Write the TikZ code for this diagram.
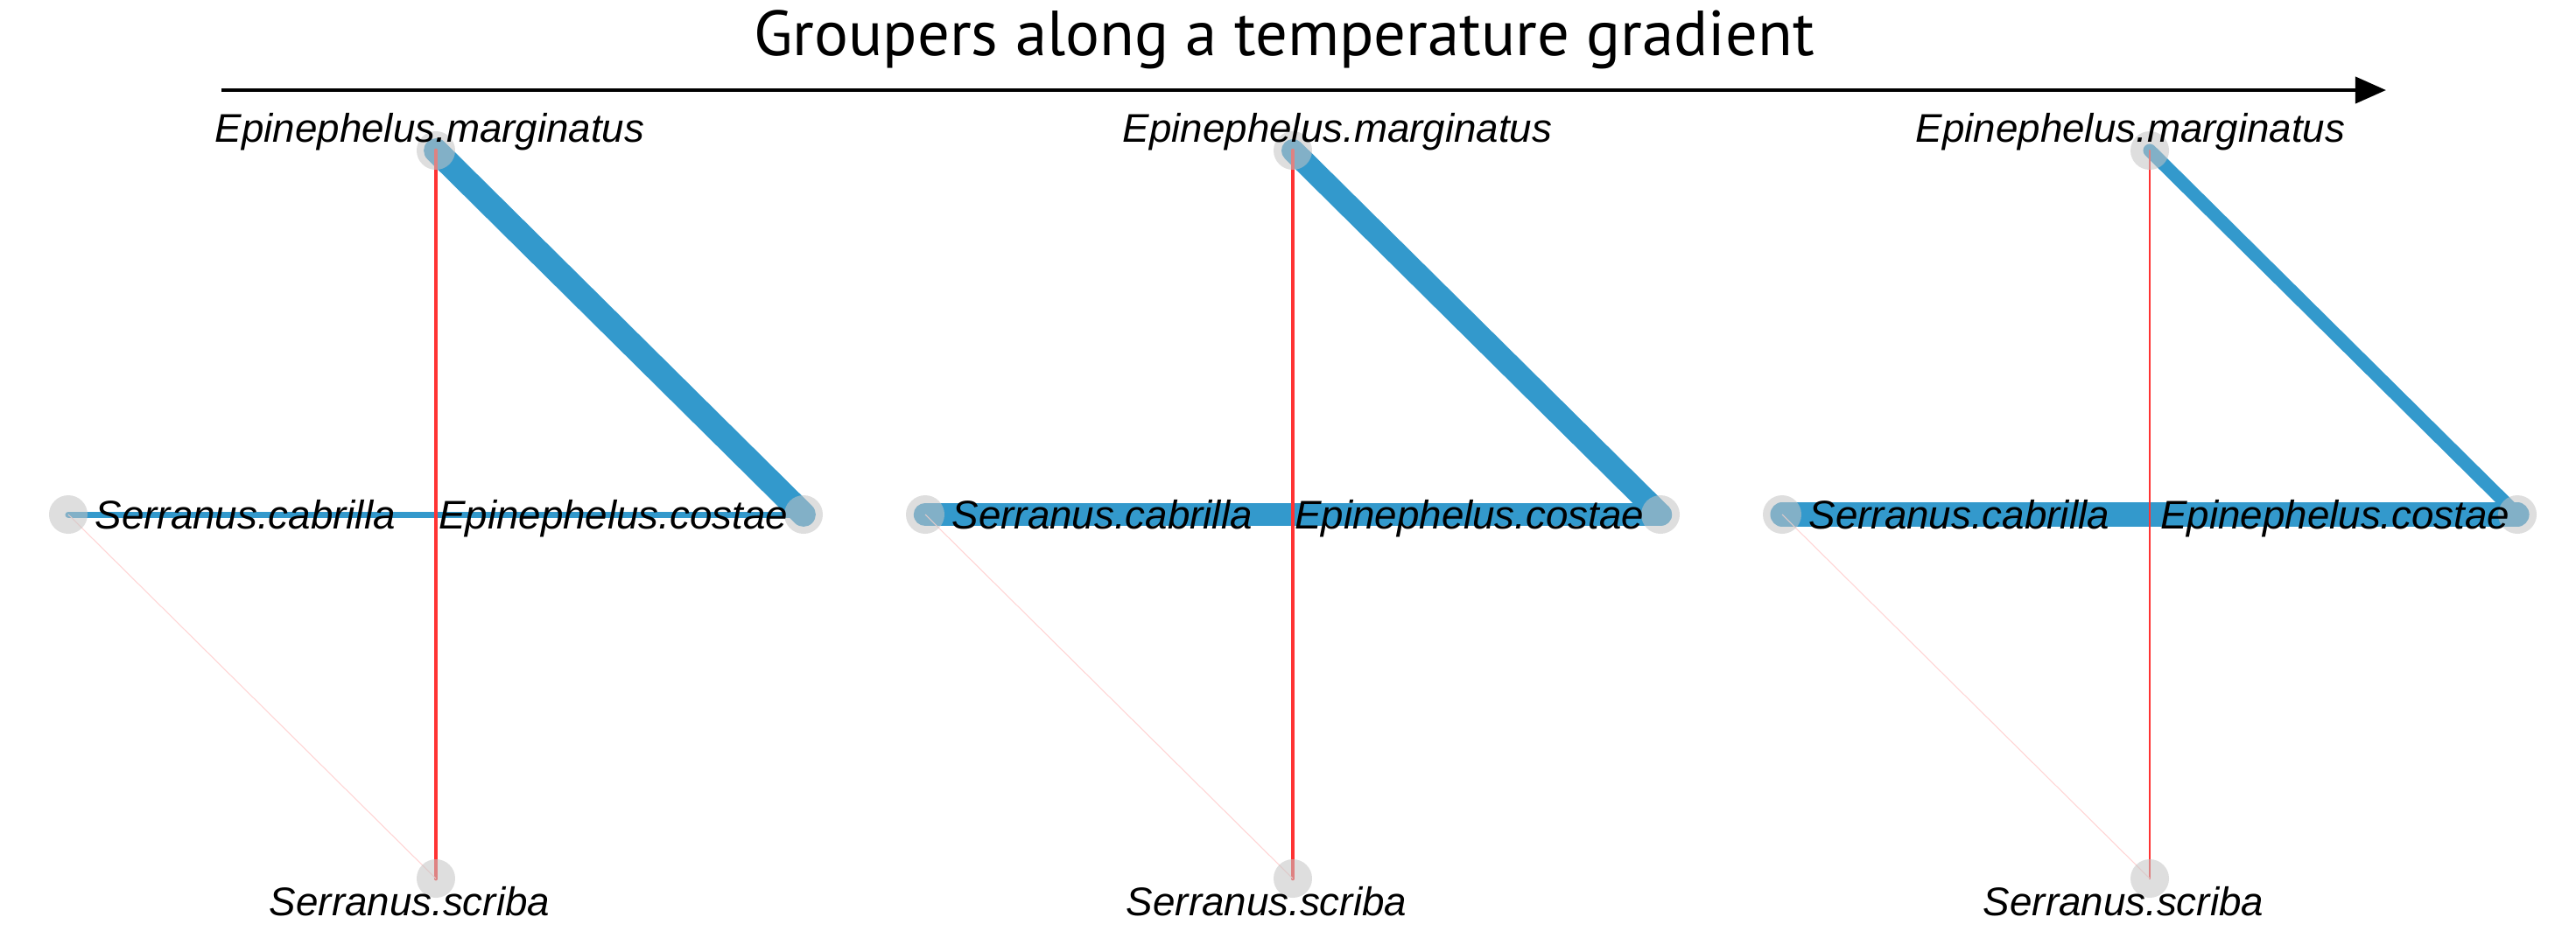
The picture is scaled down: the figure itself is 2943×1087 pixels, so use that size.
\documentclass[tikz,border=0pt]{standalone}
\usepackage{fontspec}
\newfontfamily\labfont{Liberation Sans}
\newfontfamily\titlefont{PT Sans}
\usepackage{tikz}
\usetikzlibrary{arrows.meta,backgrounds}
\definecolor{linkBlue}{RGB}{51,153,204}
\definecolor{linkRed}{RGB}{255,51,51}
\definecolor{linkPink}{RGB}{255,212,212}
\definecolor{nodeGray}{RGB}{195,195,195}
\tikzset{
  species/.style={circle,fill=nodeGray,fill opacity=0.55,
    minimum size=0.44cm,inner sep=0pt},
  splabel/.style={font=\labfont\itshape\fontsize{13}{15}\selectfont,
    inner sep=0pt},
  poslink/.style={draw=linkBlue,line cap=round,line width=#1},
  neglink/.style={draw=linkRed,line cap=round,line width=#1},
  weaklink/.style={draw=linkPink,line width=0.3pt},
  gradarrow/.style={-{Triangle[length=10pt,width=8.5pt]},line width=1.3pt}
}

\begin{document}
\begin{tikzpicture}[x=0.01cm,y=-0.01cm]
  \useasboundingbox (0,0) rectangle (2943,1087);
  % title and gradient arrow
  \node[font=\titlefont\fontsize{20.7}{24}\selectfont,anchor=base,inner sep=0pt]
    (title) at (1467,63) {Groupers along a temperature gradient};
  \coordinate (gradstart) at (253,103);
  \coordinate (gradend) at (2726,103);
  \draw[gradarrow] (gradstart) -- (gradend);

  % panel 1
  \node[species] (m1) at (498,172) {};
  \node[species] (b1) at (78,588) {};
  \node[species] (c1) at (918,588) {};
  \node[species] (s1) at (498,1004) {};
  \node[splabel,anchor=base] (lm1) at ([xshift=-0.07cm,yshift=0.10cm]m1.center) {Epinephelus.marginatus};
  \node[splabel,anchor=base west] (lb1) at ([xshift=0.30cm,yshift=-0.16cm]b1.center) {Serranus.cabrilla};
  \node[splabel,anchor=base east] (lc1) at ([xshift=-0.17cm,yshift=-0.16cm]c1.center) {Epinephelus.costae};
  \node[splabel,anchor=base] (ls1) at ([xshift=-0.30cm,yshift=-0.42cm]s1.center) {Serranus.scriba};

  % panel 2
  \node[species] (m2) at (1477,172) {};
  \node[species] (b2) at (1057,588) {};
  \node[species] (c2) at (1897,588) {};
  \node[species] (s2) at (1477,1004) {};
  \node[splabel,anchor=base] (lm2) at ([xshift=0.51cm,yshift=0.10cm]m2.center) {Epinephelus.marginatus};
  \node[splabel,anchor=base west] (lb2) at ([xshift=0.30cm,yshift=-0.16cm]b2.center) {Serranus.cabrilla};
  \node[splabel,anchor=base east] (lc2) at ([xshift=-0.18cm,yshift=-0.16cm]c2.center) {Epinephelus.costae};
  \node[splabel,anchor=base] (ls2) at ([xshift=-0.30cm,yshift=-0.42cm]s2.center) {Serranus.scriba};

  % panel 3
  \node[species] (m3) at (2456,172) {};
  \node[species] (b3) at (2036,588) {};
  \node[species] (c3) at (2876,588) {};
  \node[species] (s3) at (2456,1004) {};
  \node[splabel,anchor=base] (lm3) at ([xshift=-0.22cm,yshift=0.10cm]m3.center) {Epinephelus.marginatus};
  \node[splabel,anchor=base west] (lb3) at ([xshift=0.30cm,yshift=-0.16cm]b3.center) {Serranus.cabrilla};
  \node[splabel,anchor=base east] (lc3) at ([xshift=-0.08cm,yshift=-0.16cm]c3.center) {Epinephelus.costae};
  \node[splabel,anchor=base] (ls3) at ([xshift=-0.30cm,yshift=-0.42cm]s3.center) {Serranus.scriba};

  % links under the nodes
  \begin{scope}[on background layer]
    \draw[poslink=7.9pt] (m1.center) -- (c1.center);
    \draw[poslink=2pt]   (b1.center) -- (c1.center);
    \draw[neglink=1.35pt] (m1.center) -- (s1.center);
    \draw[weaklink] (b1.center) -- (s1.center);

    \draw[poslink=7.4pt] (m2.center) -- (c2.center);
    \draw[poslink=7.5pt] (b2.center) -- (c2.center);
    \draw[neglink=1.3pt] (m2.center) -- (s2.center);
    \draw[weaklink] (b2.center) -- (s2.center);

    \draw[poslink=4.3pt] (m3.center) -- (c3.center);
    \draw[poslink=7.7pt] (b3.center) -- (c3.center);
    \draw[neglink=0.65pt] (m3.center) -- (s3.center);
    \draw[weaklink] (b3.center) -- (s3.center);
  \end{scope}
\end{tikzpicture}
\end{document}
